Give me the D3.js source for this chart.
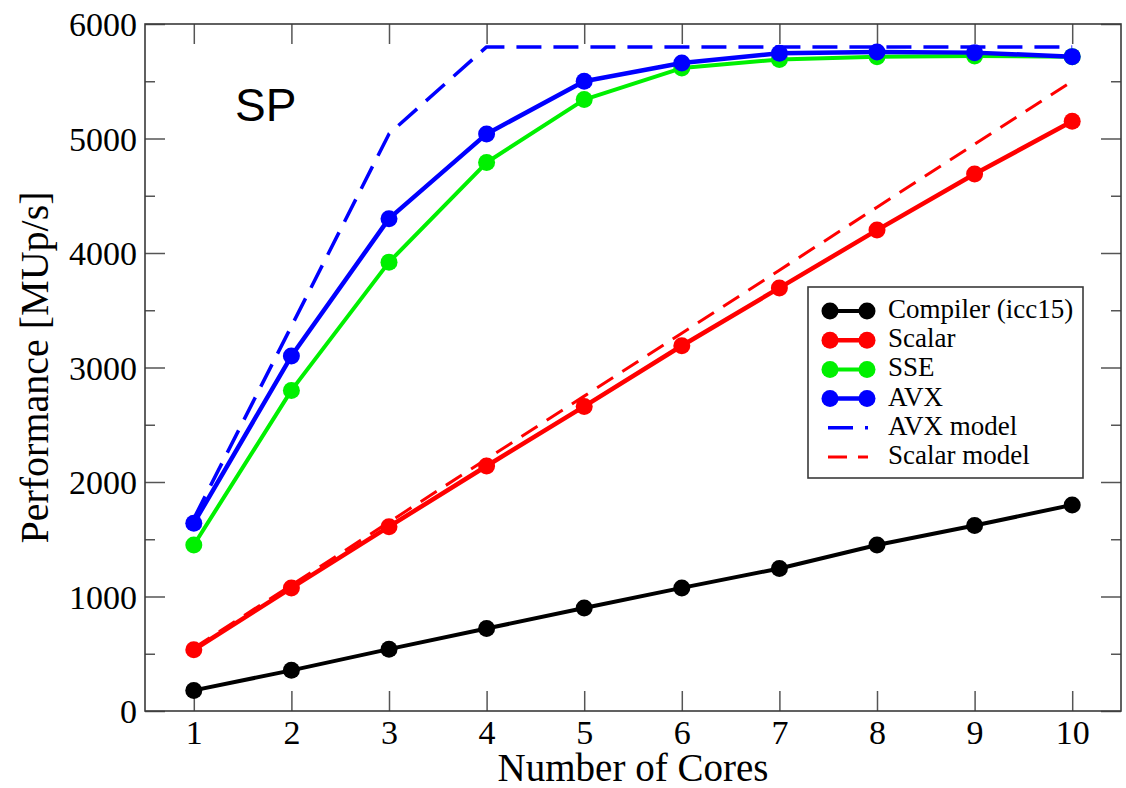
<!DOCTYPE html>
<html>
<head>
<meta charset="utf-8">
<script src="https://cdn.jsdelivr.net/npm/d3@7"></script>
<style>
  html, body { margin: 0; padding: 0; background: #fff; }
  svg { display: block; }
</style>
</head>
<body>
<svg id="chart" width="1126" height="788"></svg>
<script>
// Single-precision throughput vs. number of cores
const cores        = [1, 2, 3, 4, 5, 6, 7, 8, 9, 10];
const compiler     = [180, 355, 540, 720, 900, 1075, 1245, 1450, 1620, 1800];
const scalar       = [535, 1075, 1610, 2140, 2660, 3190, 3695, 4200, 4690, 5150];
const sse          = [1450, 2800, 3920, 4790, 5340, 5615, 5690, 5715, 5720, 5715];
const avx          = [1640, 3100, 4300, 5040, 5500, 5660, 5745, 5755, 5750, 5715];
const avxModel     = [1680, 3360, 5040, 5800, 5800, 5800, 5800, 5800, 5800, 5800];
const scalarModel  = [550, 1100, 1650, 2200, 2750, 3300, 3850, 4400, 4950, 5500];
const xTicks       = [1, 2, 3, 4, 5, 6, 7, 8, 9, 10];
const yTicks       = [0, 1000, 2000, 3000, 4000, 5000, 6000];
const yMinorTicks  = [500, 1500, 2500, 3500, 4500, 5500];
const seriesNames  = ["Compiler (icc15)", "Scalar", "SSE", "AVX", "AVX model", "Scalar model"];

const serif = "'Liberation Serif', 'Times New Roman', Times, serif";
const svg = d3.select("#chart");

const L = 145, R = 1121, T = 24, B = 711;
const x = d3.scaleLinear().domain([0.5, 10.5]).range([L, R]);
const y = d3.scaleLinear().domain([0, 6000]).range([B, T]);

const frameColor = "#3a3a3a";
const tickColor = "#555";

// tick marks on all four sides, pointing inward
function styleAxis(g) {
  g.select(".domain").remove();
  g.selectAll(".tick line").attr("stroke", tickColor).attr("stroke-width", 1.5);
}
svg.append("g").attr("transform", `translate(0,${B})`)
  .call(d3.axisBottom(x).tickValues(xTicks).tickSize(-20).tickPadding(10).tickFormat(d3.format("d")))
  .call(styleAxis)
  .call(g => g.selectAll("text").attr("font-family", serif).attr("font-size", 34).attr("fill", "#000")
    .attr("y", 33).attr("dy", null));
svg.append("g").attr("transform", `translate(0,${T})`)
  .call(d3.axisTop(x).tickValues(xTicks).tickSize(-20).tickFormat(""))
  .call(styleAxis);
svg.append("g").attr("transform", `translate(${L},0)`)
  .call(d3.axisLeft(y).tickValues(yTicks).tickSize(-20).tickPadding(8).tickFormat(d3.format("d")))
  .call(styleAxis)
  .call(g => g.selectAll("text").attr("font-family", serif).attr("font-size", 34).attr("fill", "#000")
    .attr("x", -8).attr("dy", "0.34em"));
svg.append("g").attr("transform", `translate(${L},0)`)
  .call(d3.axisLeft(y).tickValues(yMinorTicks).tickSize(-10).tickFormat(""))
  .call(styleAxis);
svg.append("g").attr("transform", `translate(${R},0)`)
  .call(d3.axisRight(y).tickValues(yTicks).tickSize(-20).tickFormat(""))
  .call(styleAxis);
svg.append("g").attr("transform", `translate(${R},0)`)
  .call(d3.axisRight(y).tickValues(yMinorTicks).tickSize(-10).tickFormat(""))
  .call(styleAxis);

// plot frame
svg.append("rect").attr("x", L).attr("y", T).attr("width", R - L).attr("height", B - T)
  .attr("fill", "none").attr("stroke", frameColor).attr("stroke-width", 1.6);

// axis titles
svg.append("text").attr("x", (L + R) / 2).attr("y", 781).attr("text-anchor", "middle")
  .attr("font-family", serif).attr("font-size", 39).text("Number of Cores");
svg.append("text").attr("transform", `translate(48,${(T + B) / 2}) rotate(-90)`)
  .attr("text-anchor", "middle").attr("font-family", serif).attr("font-size", 40)
  .text("Performance [MUp/s]");

// panel label
svg.append("text").attr("x", 235).attr("y", 121)
  .attr("font-family", "'Liberation Sans', Arial, sans-serif").attr("font-size", 46).text("SP");

const line = d3.line().x((d, i) => x(cores[i])).y(d => y(d));

// data series
const series = [
  { values: compiler,    color: "#000000", width: 4,   marker: true },
  { values: scalar,      color: "#ff0000", width: 4.5, marker: true },
  { values: sse,         color: "#00f000", width: 4,   marker: true },
  { values: avx,         color: "#0000ff", width: 4.5, marker: true },
  { values: avxModel,    color: "#0000ff", width: 3.5, marker: false, dash: "25 12" },
  { values: scalarModel, color: "#ff0000", width: 3,   marker: false, dash: "19 11" }
];

const plot = svg.append("g");
series.forEach(s => {
  plot.append("path").datum(s.values).attr("d", line)
    .attr("fill", "none").attr("stroke", s.color).attr("stroke-width", s.width)
    .attr("stroke-linejoin", "round")
    .attr("stroke-dasharray", s.dash || null);
  if (s.marker) {
    plot.selectAll(null).data(s.values).enter().append("circle")
      .attr("cx", (d, i) => x(cores[i])).attr("cy", d => y(d)).attr("r", 8.5)
      .attr("fill", s.color);
  }
});

// legend
const lg = svg.append("g");
lg.append("rect").attr("x", 808).attr("y", 287).attr("width", 275).attr("height", 191)
  .attr("fill", "#fff").attr("stroke", frameColor).attr("stroke-width", 1.6);
series.forEach((s, i) => {
  const ry = 311 + i * 29.2;
  if (s.marker) {
    lg.append("line").attr("x1", 830).attr("x2", 867).attr("y1", ry).attr("y2", ry)
      .attr("stroke", s.color).attr("stroke-width", s.width);
    [830, 867].forEach(cx => lg.append("circle").attr("cx", cx).attr("cy", ry).attr("r", 8.5).attr("fill", s.color));
  } else {
    lg.append("line").attr("x1", 828).attr("x2", 868).attr("y1", ry).attr("y2", ry)
      .attr("stroke", s.color).attr("stroke-width", s.width).attr("stroke-dasharray", s.dash);
  }
  lg.append("text").attr("x", 888).attr("y", ry + 7).attr("font-family", serif)
    .attr("font-size", 27).text(seriesNames[i]);
});
</script>
</body>
</html>
